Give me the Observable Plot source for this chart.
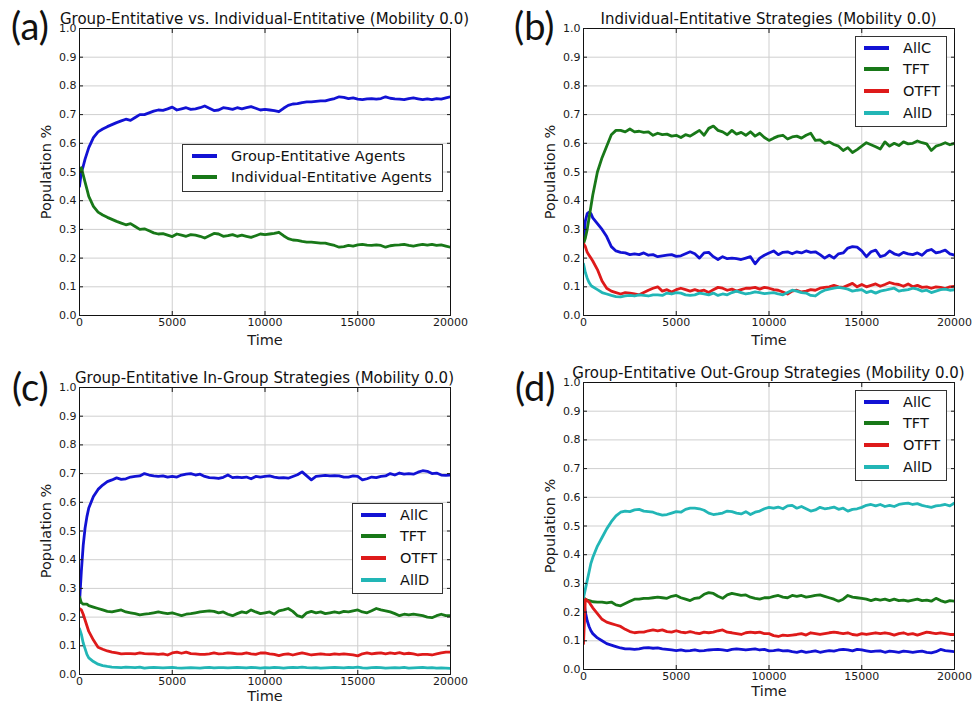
<!DOCTYPE html>
<html><head><meta charset="utf-8">
<script src="https://cdn.jsdelivr.net/npm/d3@7"></script>
<script src="https://cdn.jsdelivr.net/npm/@observablehq/plot@0.6"></script>
<style>
body{margin:0;background:#fff;}
#root{position:relative;width:973px;height:704px;overflow:hidden;font-family:"DejaVu Sans",sans-serif;background:#fff;}
.panel{position:absolute;width:486px;height:352px;}
.panel svg.chart{position:absolute;left:0;top:0;overflow:visible;}
.title{position:absolute;font-size:15px;line-height:15px;white-space:nowrap;color:#111;transform:translateX(-50%);}
.letter{position:absolute;font-family:Lato,"Open Sans",sans-serif;font-size:38px;line-height:38px;color:#111;}
.legend{position:absolute;border:1px solid #333;background:#fff;box-sizing:border-box;}
.legend .row{position:absolute;left:0;height:22px;display:flex;align-items:center;font-size:14.5px;white-space:nowrap;color:#111;}
.legend .row svg{flex:none;}
g[aria-label="x-axis label"] text, g[aria-label="y-axis label"] text{font-size:14.5px;}
</style></head><body><div id="root"></div><script>
// Shared sample times
const TIME = [0,100,200,300,400,500,750,1000,1250,1500,1750,
 2000,2250,2500,2750,3000,3250,3500,3750,
 4000,4250,4500,4750,5000,5250,5500,5750,
 6000,6250,6500,6750,7000,7250,7500,7750,
 8000,8250,8500,8750,9000,9250,9500,9750,
 10000,10250,10500,10750,11000,11250,11500,11750,
 12000,12250,12500,12750,13000,13250,13500,13750,
 14000,14250,14500,14750,15000,15250,15500,15750,
 16000,16250,16500,16750,17000,17250,17500,17750,
 18000,18250,18500,18750,19000,19250,19500,19750,
 20000];
const X_TICKS = [0,5000,10000,15000,20000];
const Y_TICKS = [0,0.1,0.2,0.3,0.4,0.5,0.6,0.7,0.8,0.9,1.0];

// (a)
const aGroup = [0.45,0.50,0.52,0.545,0.565,0.585,0.62,0.64,0.65,0.658,0.665,
 0.672,0.678,0.684,0.68,0.69,0.70,0.70,0.706,
 0.712,0.716,0.715,0.72,0.726,0.716,0.72,0.724,
 0.718,0.72,0.724,0.73,0.722,0.714,0.716,0.724,
 0.722,0.718,0.724,0.72,0.724,0.728,0.722,0.716,
 0.718,0.716,0.714,0.71,0.722,0.732,0.737,0.738,
 0.742,0.744,0.744,0.746,0.748,0.748,0.752,0.756,
 0.762,0.76,0.756,0.758,0.754,0.752,0.755,0.756,
 0.754,0.756,0.762,0.757,0.755,0.754,0.752,0.756,
 0.758,0.755,0.752,0.755,0.752,0.756,0.754,0.758,
 0.762];
const aIndividual = [0.50,0.515,0.49,0.465,0.44,0.415,0.38,0.36,0.35,0.342,0.335,
 0.328,0.322,0.316,0.32,0.31,0.30,0.302,0.295,
 0.288,0.284,0.285,0.28,0.275,0.284,0.28,0.276,
 0.282,0.28,0.276,0.27,0.278,0.286,0.284,0.276,
 0.278,0.282,0.276,0.28,0.276,0.272,0.278,0.284,
 0.282,0.284,0.286,0.29,0.278,0.268,0.263,0.262,
 0.258,0.256,0.256,0.254,0.252,0.252,0.248,0.244,
 0.238,0.24,0.244,0.242,0.246,0.248,0.245,0.244,
 0.246,0.244,0.238,0.243,0.245,0.246,0.248,0.244,
 0.242,0.245,0.248,0.245,0.248,0.244,0.246,0.242,
 0.238];

// (b)
const bAllC = [0.25,0.33,0.355,0.36,0.355,0.34,0.32,0.30,0.275,0.24,0.225,
 0.22,0.218,0.212,0.215,0.212,0.218,0.21,0.212,
 0.205,0.208,0.21,0.212,0.206,0.208,0.215,0.222,
 0.215,0.20,0.218,0.22,0.205,0.195,0.205,0.198,
 0.20,0.198,0.195,0.20,0.205,0.18,0.20,0.21,
 0.218,0.225,0.212,0.22,0.222,0.215,0.222,0.218,
 0.225,0.22,0.222,0.212,0.20,0.21,0.20,0.215,
 0.218,0.235,0.24,0.238,0.225,0.205,0.222,0.228,
 0.205,0.21,0.225,0.215,0.21,0.22,0.215,0.212,
 0.218,0.21,0.225,0.23,0.218,0.222,0.228,0.215,
 0.21];
const bTFT = [0.25,0.27,0.30,0.34,0.38,0.42,0.50,0.55,0.59,0.63,0.645,
 0.645,0.64,0.65,0.64,0.642,0.638,0.64,0.628,
 0.635,0.63,0.632,0.625,0.628,0.62,0.63,0.625,
 0.635,0.645,0.628,0.652,0.66,0.645,0.64,0.63,
 0.645,0.632,0.638,0.628,0.64,0.625,0.635,0.62,
 0.61,0.618,0.625,0.628,0.615,0.622,0.625,0.618,
 0.628,0.635,0.61,0.612,0.60,0.605,0.596,0.59,
 0.575,0.585,0.568,0.578,0.59,0.602,0.595,0.588,
 0.58,0.605,0.59,0.60,0.592,0.605,0.598,0.60,
 0.608,0.602,0.598,0.575,0.59,0.595,0.602,0.595,
 0.60];
const bOTFT = [0.25,0.24,0.22,0.21,0.20,0.19,0.16,0.12,0.095,0.085,0.08,
 0.075,0.08,0.078,0.075,0.072,0.08,0.088,0.095,
 0.10,0.085,0.09,0.082,0.09,0.095,0.09,0.085,
 0.09,0.085,0.088,0.08,0.09,0.098,0.095,0.088,
 0.092,0.085,0.09,0.095,0.095,0.098,0.092,0.098,
 0.095,0.09,0.088,0.082,0.075,0.085,0.088,0.082,
 0.085,0.09,0.088,0.095,0.098,0.10,0.105,0.10,
 0.098,0.105,0.112,0.10,0.108,0.10,0.105,0.11,
 0.102,0.108,0.115,0.11,0.108,0.102,0.11,0.10,
 0.105,0.098,0.10,0.095,0.10,0.098,0.094,0.10,
 0.102];
const bAllD = [0.18,0.15,0.13,0.115,0.105,0.10,0.09,0.08,0.075,0.07,0.066,
 0.065,0.068,0.07,0.068,0.072,0.07,0.068,0.072,
 0.072,0.07,0.078,0.075,0.08,0.078,0.072,0.07,
 0.072,0.078,0.075,0.072,0.078,0.07,0.075,0.072,
 0.08,0.085,0.08,0.075,0.078,0.082,0.08,0.076,
 0.078,0.08,0.075,0.072,0.08,0.088,0.085,0.08,
 0.078,0.07,0.068,0.08,0.088,0.092,0.095,0.098,
 0.095,0.092,0.085,0.088,0.09,0.08,0.085,0.078,
 0.085,0.088,0.092,0.095,0.085,0.088,0.09,0.095,
 0.092,0.085,0.088,0.08,0.085,0.09,0.092,0.088,
 0.09];

// (c)
const cAllC = [0.25,0.36,0.45,0.51,0.55,0.58,0.62,0.645,0.66,0.672,0.678,
 0.685,0.68,0.682,0.688,0.69,0.692,0.70,0.695,
 0.692,0.69,0.692,0.688,0.69,0.688,0.695,0.698,
 0.70,0.695,0.698,0.69,0.686,0.685,0.683,0.687,
 0.695,0.686,0.688,0.686,0.688,0.682,0.69,0.688,
 0.69,0.692,0.688,0.685,0.686,0.684,0.69,0.696,
 0.706,0.692,0.678,0.69,0.692,0.694,0.692,0.693,
 0.692,0.688,0.688,0.692,0.69,0.678,0.682,0.688,
 0.686,0.69,0.692,0.70,0.695,0.702,0.698,0.70,
 0.698,0.705,0.71,0.708,0.70,0.702,0.695,0.694,
 0.695];
const cTFT = [0.27,0.25,0.245,0.245,0.245,0.24,0.235,0.23,0.225,0.22,0.218,
 0.222,0.225,0.218,0.215,0.212,0.208,0.21,0.212,
 0.215,0.218,0.215,0.212,0.215,0.21,0.205,0.21,
 0.212,0.215,0.218,0.22,0.222,0.22,0.215,0.218,
 0.21,0.205,0.212,0.218,0.215,0.225,0.218,0.212,
 0.215,0.218,0.21,0.222,0.225,0.23,0.22,0.205,
 0.20,0.215,0.22,0.215,0.218,0.212,0.215,0.218,
 0.215,0.22,0.218,0.222,0.225,0.218,0.215,0.222,
 0.23,0.225,0.222,0.218,0.212,0.205,0.21,0.208,
 0.21,0.208,0.205,0.20,0.198,0.205,0.21,0.205,
 0.205];
const cOTFT = [0.23,0.225,0.21,0.19,0.17,0.15,0.12,0.095,0.088,0.082,0.078,
 0.075,0.072,0.073,0.073,0.072,0.075,0.073,0.072,
 0.072,0.07,0.072,0.068,0.075,0.078,0.074,0.078,
 0.073,0.072,0.07,0.07,0.072,0.075,0.072,0.073,
 0.075,0.074,0.072,0.072,0.075,0.072,0.07,0.075,
 0.075,0.072,0.07,0.066,0.07,0.072,0.068,0.072,
 0.075,0.072,0.068,0.07,0.072,0.07,0.069,0.072,
 0.07,0.072,0.07,0.068,0.065,0.072,0.075,0.072,
 0.074,0.075,0.072,0.075,0.073,0.076,0.072,0.074,
 0.072,0.068,0.07,0.07,0.068,0.072,0.075,0.078,
 0.078];
const cAllD = [0.16,0.14,0.11,0.09,0.07,0.058,0.045,0.036,0.031,0.028,0.026,
 0.025,0.024,0.026,0.025,0.024,0.026,0.022,0.024,
 0.025,0.024,0.023,0.024,0.025,0.023,0.022,0.023,
 0.024,0.023,0.022,0.024,0.025,0.023,0.024,0.024,
 0.023,0.024,0.025,0.024,0.023,0.025,0.024,0.022,
 0.024,0.023,0.025,0.024,0.022,0.024,0.025,0.024,
 0.026,0.024,0.023,0.024,0.022,0.023,0.024,0.025,
 0.024,0.023,0.025,0.024,0.026,0.023,0.022,0.024,
 0.025,0.024,0.022,0.023,0.024,0.023,0.025,0.022,
 0.023,0.024,0.025,0.023,0.024,0.022,0.023,0.022,
 0.021];

// (d)
const dAllC = [0.25,0.20,0.17,0.15,0.135,0.125,0.11,0.10,0.09,0.085,0.08,
 0.075,0.072,0.072,0.07,0.072,0.075,0.076,0.074,
 0.075,0.072,0.07,0.068,0.066,0.068,0.065,0.066,
 0.068,0.065,0.066,0.068,0.069,0.07,0.068,0.066,
 0.07,0.072,0.07,0.068,0.07,0.072,0.068,0.07,
 0.065,0.066,0.068,0.065,0.066,0.062,0.06,0.064,
 0.06,0.062,0.065,0.06,0.063,0.066,0.064,0.068,
 0.07,0.068,0.065,0.07,0.068,0.065,0.062,0.064,
 0.065,0.06,0.064,0.062,0.06,0.064,0.062,0.06,
 0.062,0.064,0.06,0.058,0.062,0.07,0.066,0.064,
 0.062];
const dTFT = [0.25,0.245,0.242,0.24,0.238,0.236,0.235,0.235,0.232,0.235,0.225,
 0.222,0.23,0.238,0.245,0.245,0.248,0.248,0.25,
 0.252,0.25,0.248,0.255,0.258,0.25,0.245,0.24,
 0.248,0.25,0.262,0.268,0.265,0.255,0.248,0.26,
 0.265,0.262,0.258,0.26,0.252,0.248,0.245,0.25,
 0.25,0.255,0.258,0.252,0.25,0.258,0.255,0.258,
 0.252,0.255,0.258,0.26,0.255,0.25,0.245,0.238,
 0.245,0.258,0.252,0.25,0.248,0.245,0.24,0.245,
 0.242,0.245,0.24,0.245,0.24,0.242,0.238,0.242,
 0.245,0.24,0.242,0.238,0.248,0.24,0.235,0.24,
 0.238];
const dOTFT = [0.09,0.245,0.24,0.235,0.225,0.215,0.195,0.175,0.165,0.16,0.155,
 0.15,0.14,0.132,0.128,0.13,0.13,0.135,0.138,
 0.135,0.138,0.132,0.13,0.135,0.13,0.128,0.132,
 0.128,0.125,0.13,0.128,0.13,0.135,0.138,0.13,
 0.128,0.125,0.122,0.128,0.13,0.128,0.13,0.125,
 0.125,0.118,0.115,0.12,0.118,0.12,0.122,0.125,
 0.12,0.128,0.125,0.122,0.125,0.128,0.13,0.128,
 0.125,0.128,0.122,0.12,0.125,0.122,0.125,0.128,
 0.125,0.128,0.125,0.12,0.125,0.128,0.122,0.125,
 0.12,0.125,0.13,0.128,0.125,0.128,0.125,0.122,
 0.122];
const dAllD = [0.25,0.28,0.31,0.34,0.37,0.39,0.43,0.46,0.49,0.515,0.535,
 0.548,0.552,0.55,0.556,0.558,0.552,0.55,0.548,
 0.542,0.538,0.54,0.545,0.55,0.548,0.558,0.562,
 0.562,0.56,0.555,0.545,0.54,0.542,0.545,0.552,
 0.55,0.545,0.542,0.55,0.54,0.548,0.552,0.56,
 0.565,0.562,0.566,0.56,0.57,0.572,0.562,0.568,
 0.56,0.552,0.556,0.565,0.56,0.562,0.566,0.558,
 0.562,0.552,0.558,0.56,0.565,0.572,0.575,0.57,
 0.575,0.568,0.572,0.568,0.575,0.578,0.58,0.575,
 0.578,0.572,0.568,0.565,0.57,0.572,0.575,0.57,
 0.58];

const BLUE = "#1212d4", GREEN = "#187818", RED = "#de1a1a", CYAN = "#22b6b6";
const STRATS = ["AllC","TFT","OTFT","AllD"];

const panels = [
  {letter:"(a)", left:0, top:0, m:[28,36,37,79], xLabelOffset:29,
   title:"Group-Entitative vs. Individual-Entitative (Mobility 0.0)", titleTop:12.3,
   letterPos:[11,6],
   names:["Group-Entitative Agents","Individual-Entitative Agents"], colors:[BLUE,GREEN], values:[aGroup,aIndividual],
   legend:{left:182, top:144, width:261, height:48, swatchX:9, textX:48}},
  {letter:"(b)", left:486, top:0, m:[28,18,37,97], xLabelOffset:29,
   title:"Individual-Entitative Strategies (Mobility 0.0)", titleTop:12.3,
   letterPos:[28,6],
   names:STRATS, colors:[BLUE,GREEN,RED,CYAN], values:[bAllC,bTFT,bOTFT,bAllD],
   legend:{left:369, top:36, width:92, height:91, swatchX:8, textX:47}},
  {letter:"(c)", left:0, top:352, m:[35,36,30,79], xLabelOffset:26,
   title:"Group-Entitative In-Group Strategies (Mobility 0.0)", titleTop:19,
   letterPos:[12,15],
   names:STRATS, colors:[BLUE,GREEN,RED,CYAN], values:[cAllC,cTFT,cOTFT,cAllD],
   legend:{left:352, top:151, width:91, height:91, swatchX:8, textX:47}},
  {letter:"(d)", left:486, top:352, m:[30,18,35,97], xLabelOffset:26,
   title:"Group-Entitative Out-Group Strategies (Mobility 0.0)", titleTop:14,
   letterPos:[29,15],
   names:STRATS, colors:[BLUE,GREEN,RED,CYAN], values:[dAllC,dTFT,dOTFT,dAllD],
   legend:{left:369, top:38, width:92, height:91, swatchX:8, textX:47}}
];

const root = document.getElementById("root");
for (const p of panels) {
  const div = document.createElement("div");
  div.className = "panel";
  div.style.left = p.left + "px";
  div.style.top = p.top + "px";
  const [mt, mr, mb, ml] = p.m;
  const rows = p.names.flatMap((name, k) => TIME.map((t, i) => ({t, v: p.values[k][i], s: name})));
  const chart = Plot.plot({
    width: 486, height: 352,
    marginTop: mt, marginRight: mr, marginBottom: mb, marginLeft: ml,
    style: {fontFamily: "DejaVu Sans", fontSize: "11px", color: "#1a1a1a", background: "transparent", overflow: "visible"},
    x: {domain: [0, 20000]},
    y: {domain: [0, 1]},
    color: {domain: p.names, range: p.colors},
    marks: [
      Plot.gridX(X_TICKS, {stroke: "#cfcfcf", strokeOpacity: 1}),
      Plot.gridY(Y_TICKS, {stroke: "#cfcfcf", strokeOpacity: 1}),
      Plot.line(rows, {x: "t", y: "v", z: "s", stroke: "s", strokeWidth: 2.8, clip: true}),
      Plot.frame({stroke: "#111"}),
      Plot.axisX(X_TICKS, {tickSize: -4, tickPadding: 7, tickFormat: d => String(d), label: "Time", labelAnchor: "center", labelArrow: "none", labelOffset: p.xLabelOffset}),
      Plot.axisX(X_TICKS, {anchor: "top", tickSize: -4, tickFormat: () => "", label: null}),
      Plot.axisY(Y_TICKS, {tickSize: -4, tickPadding: 7, tickFormat: d3.format(".1f"), label: "Population %", labelAnchor: "center", labelArrow: "none", labelOffset: 39}),
      Plot.axisY(Y_TICKS, {anchor: "right", tickSize: -4, tickFormat: () => "", label: null})
    ]
  });
  chart.classList.add("chart");
  div.appendChild(chart);

  const title = document.createElement("div");
  title.className = "title";
  title.textContent = p.title;
  title.style.left = (ml + (486 - ml - mr) / 2) + "px";
  title.style.top = p.titleTop + "px";
  div.appendChild(title);

  const letter = document.createElement("div");
  letter.className = "letter";
  letter.textContent = p.letter;
  letter.style.left = p.letterPos[0] + "px";
  letter.style.top = p.letterPos[1] + "px";
  div.appendChild(letter);

  const lg = document.createElement("div");
  lg.className = "legend";
  Object.assign(lg.style, {left: p.legend.left + "px", top: p.legend.top + "px", width: p.legend.width + "px", height: p.legend.height + "px"});
  p.names.forEach((name, i) => {
    const row = document.createElement("div");
    row.className = "row";
    row.style.top = (11.5 + 21.8 * i - 12) + "px";
    row.innerHTML = `<svg width="${p.legend.textX}" height="22"><line x1="${p.legend.swatchX}" x2="${p.legend.swatchX + 25}" y1="11" y2="11" stroke="${p.colors[i]}" stroke-width="4"/></svg><span>${name}</span>`;
    lg.appendChild(row);
  });
  div.appendChild(lg);
  root.appendChild(div);
}
</script></body></html>
